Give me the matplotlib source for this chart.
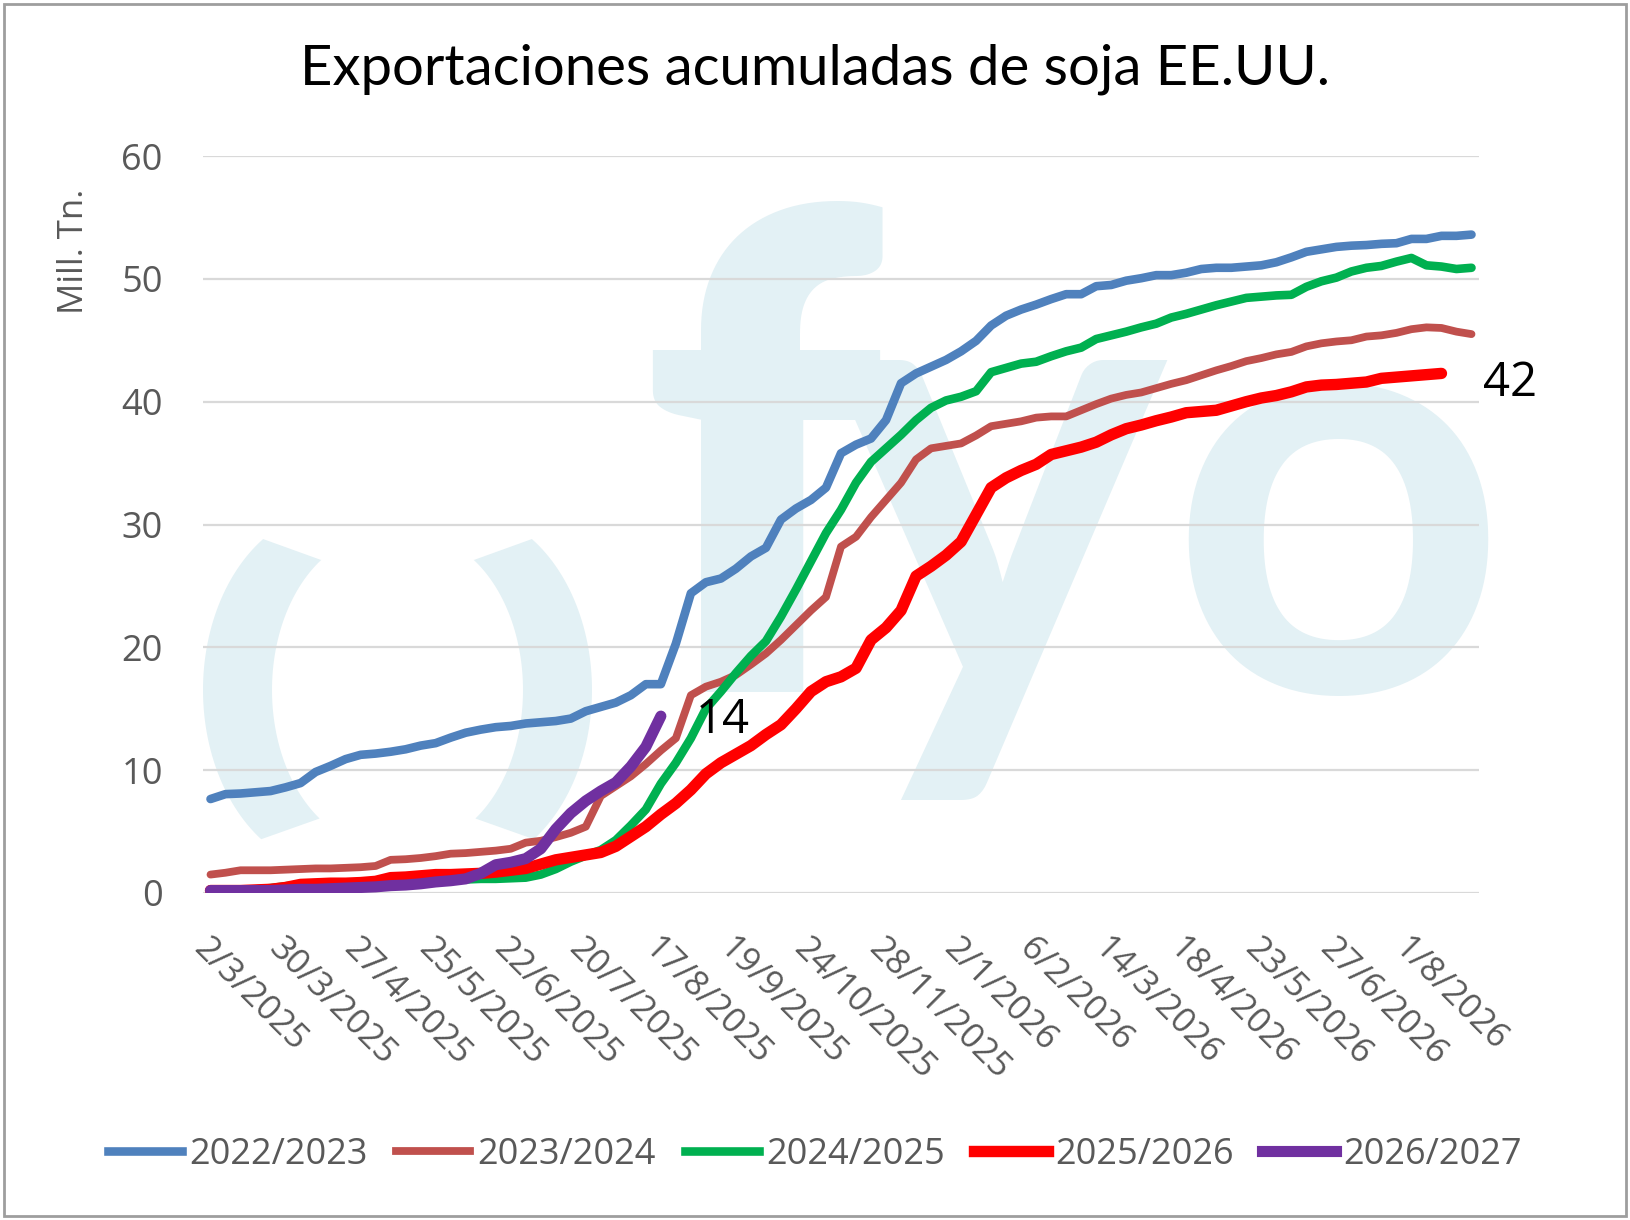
import matplotlib.pyplot as plt
from matplotlib.patches import Polygon, Rectangle
from matplotlib.lines import Line2D
import numpy as np

plt.rcParams['font.family'] = ['Open Sans', 'DejaVu Sans']

# Datos: exportaciones acumuladas (Mill. Tn.) por semana
serie_2223 = [7.65, 8.05, 8.1, 8.2, 8.3, 8.6, 8.95, 9.85, 10.35, 10.9,
              11.25, 11.35, 11.5, 11.7, 12.0, 12.2, 12.65, 13.05, 13.3, 13.5,
              13.6, 13.8, 13.9, 14.0, 14.2, 14.8, 15.15, 15.5, 16.1, 17.0,
              17.0, 20.3, 24.4, 25.3, 25.6, 26.4, 27.4, 28.1, 30.4, 31.3,
              32.0, 33.0, 35.8, 36.5, 37.0, 38.5, 41.5, 42.3, 42.85, 43.4,
              44.1, 44.95, 46.2, 47.0, 47.5, 47.9, 48.35, 48.75, 48.75, 49.4,
              49.5, 49.85, 50.05, 50.3, 50.3, 50.5, 50.8, 50.9, 50.9, 51.0,
              51.1, 51.35, 51.75, 52.2, 52.4, 52.6, 52.7, 52.75, 52.85, 52.9,
              53.25, 53.25, 53.5, 53.5, 53.6]
serie_2324 = [1.5, 1.65, 1.85, 1.85, 1.85, 1.9, 1.95, 2.0, 2.0, 2.05,
              2.1, 2.2, 2.7, 2.75, 2.85, 3.0, 3.2, 3.25, 3.35, 3.45,
              3.6, 4.1, 4.25, 4.55, 4.9, 5.4, 7.9, 8.7, 9.5, 10.5,
              11.6, 12.6, 16.1, 16.8, 17.2, 17.75, 18.6, 19.5, 20.6, 21.8,
              23.0, 24.1, 28.2, 29.0, 30.6, 32.0, 33.4, 35.3, 36.2, 36.4,
              36.6, 37.25, 38.0, 38.2, 38.4, 38.7, 38.8, 38.8, 39.3, 39.8,
              40.25, 40.55, 40.75, 41.1, 41.45, 41.75, 42.15, 42.55, 42.9, 43.3,
              43.55, 43.85, 44.05, 44.5, 44.75, 44.9, 45.0, 45.3, 45.4, 45.6,
              45.9, 46.05, 46.0, 45.7, 45.5]
serie_2425 = [0.2, 0.2, 0.25, 0.3, 0.4, 0.55, 0.7, 0.75, 0.75, 0.8,
              0.8, 0.85, 0.85, 0.9, 0.95, 1.0, 1.05, 1.1, 1.15, 1.15,
              1.2, 1.25, 1.5, 1.95, 2.55, 3.05, 3.5, 4.3, 5.5, 6.8,
              8.9, 10.6, 12.6, 15.0, 16.4, 17.9, 19.3, 20.5, 22.5, 24.7,
              27.0, 29.3, 31.2, 33.4, 35.1, 36.2, 37.3, 38.5, 39.5, 40.1,
              40.4, 40.85, 42.4, 42.75, 43.1, 43.25, 43.7, 44.1, 44.4, 45.1,
              45.4, 45.7, 46.05, 46.35, 46.85, 47.15, 47.5, 47.85, 48.15, 48.45,
              48.55, 48.65, 48.7, 49.35, 49.8, 50.1, 50.6, 50.9, 51.05, 51.4,
              51.7, 51.1, 51.0, 50.8, 50.9]
serie_2526 = [0.2, 0.2, 0.2, 0.25, 0.3, 0.45, 0.7, 0.75, 0.8, 0.8,
              0.85, 0.95, 1.25, 1.3, 1.4, 1.5, 1.5, 1.55, 1.6, 1.7,
              1.85, 2.0, 2.35, 2.7, 2.9, 3.1, 3.3, 3.8, 4.6, 5.4,
              6.4, 7.3, 8.4, 9.7, 10.6, 11.3, 12.0, 12.9, 13.7, 15.0,
              16.4, 17.2, 17.6, 18.3, 20.6, 21.6, 23.0, 25.8, 26.6, 27.5,
              28.6, 30.8, 33.0, 33.8, 34.4, 34.9, 35.7, 36.0, 36.3, 36.7,
              37.3, 37.8, 38.1, 38.45, 38.75, 39.1, 39.2, 39.3, 39.65, 40.0,
              40.3, 40.5, 40.8, 41.2, 41.35, 41.4, 41.5, 41.6, 41.9, 42.0,
              42.1, 42.2, 42.3]
serie_2627 = [0.2, 0.2, 0.2, 0.2, 0.2, 0.25, 0.3, 0.3, 0.35, 0.4,
              0.45, 0.5, 0.6, 0.65, 0.75, 0.9, 1.0, 1.15, 1.6, 2.3,
              2.5, 2.8, 3.6, 5.2, 6.5, 7.5, 8.3, 9.0, 10.3, 11.9,
              14.4]

etiquetas_x = ['2/3/2025', '30/3/2025', '27/4/2025', '25/5/2025', '22/6/2025',
               '20/7/2025', '17/8/2025', '19/9/2025', '24/10/2025', '28/11/2025',
               '2/1/2026', '6/2/2026', '14/3/2026', '18/4/2026', '23/5/2026',
               '27/6/2026', '1/8/2026']
campanias = ['2022/2023', '2023/2024', '2024/2025', '2025/2026', '2026/2027']
series = [serie_2223, serie_2324, serie_2425, serie_2526, serie_2627]
colores = ['#4F81BD', '#C0504D', '#00B050', '#FF0000', '#7030A0']
grosores = [6.2, 5.6, 6.2, 8.2, 8.0]

gris = '#595959'
agua = '#e3f1f5'

fig = plt.figure(figsize=(16.3, 12.2), dpi=100)

# fondo: marca de agua y borde (en pixeles)
bg = fig.add_axes([0, 0, 1, 1], zorder=0)
bg.set_xlim(0, 1630)
bg.set_ylim(1220, 0)
bg.axis('off')

t = np.linspace(np.radians(123), np.radians(236), 60)
ext = np.column_stack([335 + 132 * np.cos(t), 690 - 180 * np.sin(t)])
t2 = t[::-1]
inn = np.column_stack([380 + 108 * np.cos(t2), 690 - 155 * np.sin(t2)])
media_luna = np.vstack([ext, inn])
bg.add_patch(Polygon(media_luna, closed=True, color=agua, lw=0))
espejo = media_luna.copy()
espejo[:, 0] = 795 - espejo[:, 0]
bg.add_patch(Polygon(espejo, closed=True, color=agua, lw=0))

bg.text(640, 692, 'f', fontsize=475, color=agua, family='Lato', weight='heavy',
        ha='left', va='baseline')
bg.text(826, 692, 'y', fontsize=465, color=agua, family='Lato', weight='bold',
        ha='left', va='baseline')
bg.text(1168, 692, 'o', fontsize=425, color=agua, family='Lato', weight='bold',
        ha='left', va='baseline')

bg.add_patch(Rectangle((4, 4), 1622, 1212, fill=False, ec='#9e9e9e', lw=2))

# grafico principal
ax = fig.add_axes([203 / 1630, 1 - 893 / 1220, (1479 - 203) / 1630, (893 - 156) / 1220],
                  zorder=1)
ax.patch.set_alpha(0)

for datos, color, lw in zip(series, colores, grosores):
    ax.plot(range(len(datos)), datos, color=color, lw=lw, solid_capstyle='round',
            solid_joinstyle='round')

ax.set_ylim(0, 60)
ax.set_xlim(-0.5, 84.5)
ax.set_yticks(range(0, 61, 10))
ax.yaxis.grid(True, color='#d9d9d9', lw=1.6)
ax.set_axisbelow(True)
for s in ax.spines.values():
    s.set_visible(False)
ax.tick_params(axis='y', length=0, pad=29, labelsize=26, labelcolor=gris)
ax.tick_params(axis='x', length=0, pad=28, labelsize=25, labelcolor=gris)
ax.set_xticks(range(0, 5 * len(etiquetas_x), 5))
ax.set_xticklabels(etiquetas_x, rotation=-45, ha='left', va='top',
                   rotation_mode='anchor')

ax.set_ylabel('Mill. Tn.', fontsize=25, color=gris)
ax.yaxis.set_label_coords(-0.088, 0.87)

ax.annotate(f'{serie_2526[-1]:.0f}', xy=(len(serie_2526) - 1, serie_2526[-1]),
            xytext=(30, -7), textcoords='offset points', ha='left', va='center',
            fontsize=34, color='black')
ax.annotate(f'{serie_2627[-1]:.0f}', xy=(len(serie_2627) - 1, serie_2627[-1]),
            xytext=(25, -3), textcoords='offset points', ha='left', va='center',
            fontsize=34, color='black')

fig.text(0.5, 0.943, 'Exportaciones acumuladas de soja EE.UU.', ha='center',
         va='center', fontsize=40.5, color='black', family=['Lato', 'DejaVu Sans'])

handles = [Line2D([], [], color=c, lw=lw) for c, lw in zip(colores, grosores)]
fig.legend(handles, campanias, loc='center', bbox_to_anchor=(0.5, 1 - 1155 / 1220),
           ncol=5, frameon=False, fontsize=26, handlelength=2.05, handletextpad=0.2,
           columnspacing=0.8, labelcolor=gris)

fig.savefig('out.png', dpi=100)
